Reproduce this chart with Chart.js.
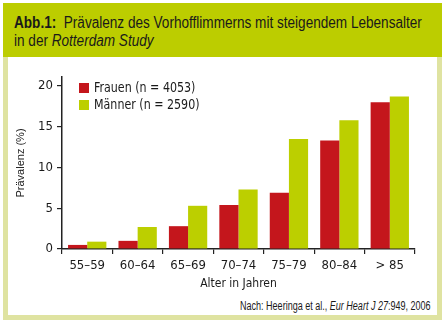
<!DOCTYPE html>
<html>
<head>
<meta charset="utf-8">
<script src="https://cdn.jsdelivr.net/npm/chart.js@4.4.1/dist/chart.umd.min.js"></script>
<style>
  html, body { margin: 0; padding: 0; background: #fff; }
  body { width: 445px; height: 325px; position: relative; overflow: hidden;
         font-family: "Liberation Sans", Arial, sans-serif; }
  #head { position: absolute; left: 3px; top: 3px; width: 439px; height: 54px; background: #bccd00; }
  .line { position: absolute; left: 11px; white-space: nowrap; font-size: 16px; line-height: 18px;
          color: #1a1a1a; transform-origin: 0 0; }
  #l1 { top: 11px; }
  #l2 { top: 29px; }
  #frame { position: absolute; left: 3px; top: 57px; width: 429px; height: 258px;
           border: 5px solid #dfe3a1; border-top: none; background: #fff; }
  #src { position: absolute; left: 240px; top: 299px; white-space: nowrap; font-size: 12px;
         color: #1a1a1a; transform-origin: 0 0; }
  canvas { position: absolute; left: 0; top: 0; }
</style>
</head>
<body>
<div id="head">
  <div class="line" id="l1"><b>Abb.1:</b>&nbsp; Prävalenz des Vorhofflimmerns mit steigendem Lebensalter</div>
  <div class="line" id="l2">in der <i>Rotterdam Study</i></div>
</div>
<div id="frame"></div>
<div id="src">Nach: Heeringa et al., <i>Eur Heart J 27</i>:949, 2006</div>
<canvas id="c" width="445" height="325"></canvas>
<script>
// Altersgruppen und Prävalenz (%)
const ageGroups = ["55–59", "60–64", "65–69", "70–74", "75–79", "80–84", "> 85"];
const frauen = [0.5, 1.0, 2.8, 5.4, 6.9, 13.3, 18.0];
const maenner = [0.9, 2.7, 5.3, 7.3, 13.5, 15.8, 18.7];
const seriesLabels = ["Frauen (n = 4053)", "Männer (n = 2590)"];
const yTicks = [0, 5, 10, 15, 20];

const RED = "#c4161c";
const GREEN = "#bccf00";
const FONT = "'DejaVu Sans Condensed', 'Liberation Sans', sans-serif";

// condensed look for the html text: squeeze to the widths in the original
function squeeze(el, w) {
  const s = w / el.scrollWidth;
  el.style.transform = "scaleX(" + s + ")";
}
const l1 = document.getElementById("l1");
const sx = 408 / l1.scrollWidth;
squeeze(l1, 408);
document.getElementById("l2").style.transform = "scaleX(" + sx + ")";
squeeze(document.getElementById("src"), 191);

// legend drawn inside the plot, stacked
const innerLegend = {
  id: "innerLegend",
  afterDraw(chart) {
    const ctx = chart.ctx;
    ctx.save();
    ctx.font = "14px " + FONT;
    ctx.textBaseline = "middle";
    chart.data.datasets.forEach((ds, i) => {
      const y = 88 + i * 17;
      ctx.fillStyle = ds.backgroundColor;
      ctx.fillRect(79, y - 5, 10, 10);
      ctx.save();
      ctx.translate(94, y);
      ctx.scale(0.88, 1);
      ctx.fillStyle = "#1a1a1a";
      ctx.fillText(ds.label, 0, 0);
      ctx.restore();
    });
    ctx.restore();
  }
};

new Chart(document.getElementById("c"), {
  type: "bar",
  data: {
    labels: ageGroups,
    datasets: [
      { label: seriesLabels[0], data: frauen, backgroundColor: RED },
      { label: seriesLabels[1], data: maenner, backgroundColor: GREEN }
    ]
  },
  plugins: [innerLegend],
  options: {
    responsive: false,
    animation: false,
    layout: { padding: { left: 14, top: 77, right: 30, bottom: 0 } },
    plugins: { legend: { display: false }, tooltip: { enabled: false } },
    datasets: { bar: { categoryPercentage: 0.76, barPercentage: 1.0 } },
    scales: {
      x: {
        afterFit: (s) => { s.height = 76; },
        grid: { display: true, drawOnChartArea: false, offset: true, tickLength: 5, color: "#222", lineWidth: 1.2 },
        border: { color: "#222", width: 1.5 },
        ticks: { color: "#1a1a1a", font: { family: FONT, size: 13 }, padding: 4 },
        title: { display: true, text: "Alter in Jahren", color: "#1a1a1a", font: { family: FONT, size: 12 }, padding: { top: 0, bottom: 34 } }
      },
      y: {
        min: 0,
        max: 21.1,
        afterFit: (s) => { s.width = 48; },
        afterBuildTicks: (s) => { s.ticks = yTicks.map(v => ({ value: v })); },
        grid: { display: true, drawOnChartArea: false, tickLength: 5, color: "#222", lineWidth: 1.2 },
        border: { color: "#222", width: 1.5 },
        ticks: { color: "#1a1a1a", font: { family: FONT, size: 13 }, padding: 4 },
        title: { display: true, text: "Prävalenz (%)", color: "#1a1a1a", font: { family: "'Liberation Sans', sans-serif", size: 11 }, padding: { top: 0, bottom: 0 } }
      }
    }
  }
});
</script>
</body>
</html>
